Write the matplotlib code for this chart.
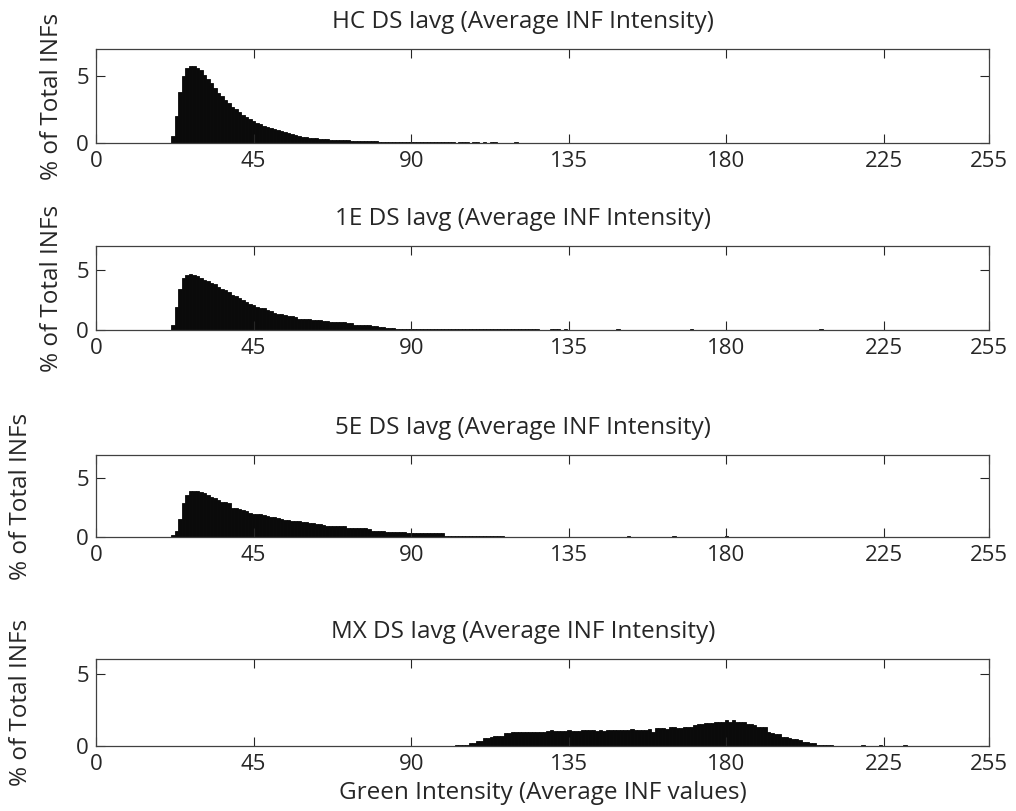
import numpy as np
import matplotlib
matplotlib.use('Agg')
import matplotlib.pyplot as plt

plt.rcParams['font.family'] = ['Open Sans', 'DejaVu Sans']

# ---- data: % of total INFs per green intensity bin ----
hc_start = 22
hc_pct = [0.55, 2.0, 3.8, 5.0, 5.6, 5.7, 5.7, 5.6,
          5.45, 5.1, 4.75, 4.45, 4.1, 3.75, 3.5, 3.2, 2.95, 2.7,
          2.5, 2.3, 2.1, 1.95, 1.8, 1.65, 1.5, 1.4, 1.3, 1.2,
          1.1, 1.02, 0.95, 0.9, 0.82, 0.75, 0.68, 0.6, 0.53, 0.48,
          0.44, 0.4, 0.37, 0.34, 0.32, 0.3, 0.28, 0.26, 0.25, 0.24,
          0.23, 0.21, 0.19, 0.17, 0.16, 0.14, 0.14, 0.13, 0.13, 0.12,
          0.12, 0.11, 0.11, 0.1, 0.1, 0.1, 0.09, 0.09, 0.09, 0.08,
          0.08, 0.08, 0.08, 0.07, 0.07, 0.07, 0.07, 0.07, 0.07, 0.07]
hc_tail_bins = [100, 101, 102, 104, 105, 106, 108, 109, 111, 113, 114, 120]
hc_tail_pct = [0.06, 0.05, 0.06, 0.05, 0.06, 0.05, 0.05, 0.06, 0.05, 0.05, 0.04, 0.06]

e1_start = 22
e1_pct = [0.45, 1.9, 3.4, 4.3, 4.6, 4.7, 4.6, 4.5,
          4.35, 4.15, 4.05, 3.9, 3.8, 3.6, 3.45, 3.3, 3.15, 2.95,
          2.85, 2.65, 2.5, 2.3, 2.15, 2.05, 1.95, 1.85, 1.8, 1.7,
          1.6, 1.45, 1.35, 1.3, 1.25, 1.2, 1.15, 1.1, 0.95, 0.92,
          0.9, 0.88, 0.86, 0.85, 0.8, 0.75, 0.72, 0.7, 0.7, 0.68,
          0.66, 0.65, 0.6, 0.55, 0.45, 0.43, 0.42, 0.4, 0.38, 0.35,
          0.3, 0.24, 0.22, 0.2, 0.2, 0.18, 0.12, 0.11, 0.1, 0.1,
          0.09, 0.08, 0.08, 0.08, 0.07, 0.07, 0.07, 0.07, 0.07, 0.06,
          0.06, 0.06, 0.06, 0.06, 0.06, 0.06, 0.05, 0.05, 0.05, 0.05,
          0.05, 0.05, 0.05, 0.05, 0.05, 0.05, 0.05, 0.05, 0.05, 0.05,
          0.05, 0.05, 0.05, 0.05, 0.05, 0.05, 0.05]
e1_tail_bins = [130, 131, 132, 134, 149, 170, 207]
e1_tail_pct = [0.05, 0.06, 0.05, 0.07, 0.06, 0.05, 0.07]

e5_start = 22
e5_pct = [0.17, 0.5, 1.55, 2.9, 3.6, 3.95, 3.95, 3.9,
          3.8, 3.75, 3.55, 3.45, 3.3, 3.2, 3.0, 2.95, 2.9, 2.5,
          2.45, 2.4, 2.3, 2.25, 2.05, 2.0, 1.98, 1.95, 1.92, 1.8,
          1.72, 1.68, 1.62, 1.5, 1.45, 1.42, 1.38, 1.36, 1.34, 1.28,
          1.25, 1.22, 1.2, 1.1, 1.07, 1.05, 0.98, 0.97, 0.96, 0.95,
          0.95, 0.93, 0.8, 0.78, 0.77, 0.76, 0.75, 0.74, 0.72, 0.55,
          0.54, 0.53, 0.5, 0.44, 0.43, 0.43, 0.42, 0.42, 0.41, 0.36,
          0.35, 0.35, 0.34, 0.34, 0.34, 0.33, 0.33, 0.33, 0.33, 0.33,
          0.06, 0.06, 0.06, 0.06, 0.06, 0.05, 0.05, 0.05, 0.05, 0.05,
          0.05, 0.05, 0.05, 0.05, 0.05, 0.05, 0.05, 0.04, 0.04, 0.04,
          0.04, 0.04, 0.04, 0.04, 0.04, 0.04, 0.04, 0.04, 0.04, 0.04,
          0.04, 0.04, 0.04, 0.04, 0.04, 0.04, 0.04, 0.04, 0.04, 0.04,
          0.04, 0.04, 0.04, 0.04, 0.04, 0.04, 0.04]
e5_tail_bins = [152, 165, 180]
e5_tail_pct = [0.05, 0.06, 0.06]

mx_start = 103
mx_pct = [0.05, 0.05, 0.06, 0.1, 0.18, 0.2, 0.35, 0.37, 0.53, 0.55,
          0.64, 0.68, 0.69, 0.7, 0.87, 0.93, 0.94, 0.95, 0.95, 0.98,
          0.98, 0.99, 1.0, 0.99, 1.0, 1.0, 1.02, 1.08, 1.03, 1.02,
          1.06, 1.03, 1.07, 1.02, 1.05, 1.06, 1.08, 1.07, 1.08, 1.1,
          1.06, 1.09, 1.03, 1.07, 1.1, 1.09, 1.08, 1.12, 1.11, 1.13,
          1.17, 1.1, 1.12, 1.13, 1.13, 1.14, 1.0, 1.22, 1.22, 1.23,
          1.2, 1.31, 1.28, 1.25, 1.26, 1.33, 1.32, 1.34, 1.48, 1.5,
          1.5, 1.6, 1.58, 1.62, 1.64, 1.66, 1.65, 1.8, 1.68, 1.8,
          1.66, 1.65, 1.64, 1.52, 1.5, 1.45, 1.33, 1.3, 1.3, 1.0,
          0.88, 0.86, 0.85, 0.62, 0.6, 0.58, 0.47, 0.46, 0.44, 0.27,
          0.25, 0.24, 0.23, 0.1, 0.09, 0.08, 0.08, 0.05, 0.03, 0.03,
          0.03, 0.03, 0.03, 0.03, 0.03]
mx_tail_bins = [219, 221, 224, 231]
mx_tail_pct = [0.04, 0.03, 0.04, 0.04]

titles = ['HC DS Iavg (Average INF Intensity)',
          '1E DS Iavg (Average INF Intensity)',
          '5E DS Iavg (Average INF Intensity)',
          'MX DS Iavg (Average INF Intensity)']
xticks = [0, 45, 90, 135, 180, 225, 255]
yticks = [0, 5]
ytops = [7, 7, 7, 6]

series = [(hc_start, hc_pct, hc_tail_bins, hc_tail_pct),
          (e1_start, e1_pct, e1_tail_bins, e1_tail_pct),
          (e5_start, e5_pct, e5_tail_bins, e5_tail_pct),
          (mx_start, mx_pct, mx_tail_bins, mx_tail_pct)]

# axes boxes in pixels (left, top, right, bottom) of the 1016x811 canvas
W, H = 1016, 811
boxes = [(96, 49, 989, 143), (96, 246, 989, 330),
         (96, 455, 989, 537), (96, 659, 989, 746)]
ylab_x = [-0.036, -0.036, -0.071, -0.071]

fig = plt.figure(figsize=(W / 100, H / 100), dpi=100)
tick_fs = 16
title_fs = 17.5
lab_fs = 17.5
txt = '#262626'

for i, (start, pct, tb, tp) in enumerate(series):
    l, t, r, b = boxes[i]
    ax = fig.add_axes([l / W, (H - b) / H, (r - l) / W, (b - t) / H])
    bins = np.arange(start, start + len(pct))
    ax.bar(bins, pct, width=1, color='#0a0a0a', edgecolor='#0a0a0a', linewidth=0.6)
    ax.bar(tb, tp, width=1, color='#0a0a0a', edgecolor='#0a0a0a', linewidth=0.6)
    ax.set_xlim(0, 255)
    ax.set_ylim(0, ytops[i])
    ax.set_xticks(xticks)
    ax.set_yticks(yticks)
    ax.tick_params(direction='in', length=6.5, width=0.8, color=txt,
                   top=True, right=True, labelsize=tick_fs, labelcolor=txt)
    ax.tick_params(axis='x', pad=6)
    ax.tick_params(axis='y', pad=5)
    for s in ax.spines.values():
        s.set_color('#404040')
        s.set_linewidth(0.9)
    ax.set_title(titles[i], fontsize=title_fs, color=txt, pad=15, x=0.478)
    ax.set_ylabel('% of Total INFs', fontsize=lab_fs, color=txt)
    ax.yaxis.set_label_coords(ylab_x[i], 0.5)
    if i == 3:
        ax.set_xlabel('Green Intensity (Average INF values)', fontsize=lab_fs,
                      color=txt, labelpad=4)

fig.savefig('out.png', dpi=100)
